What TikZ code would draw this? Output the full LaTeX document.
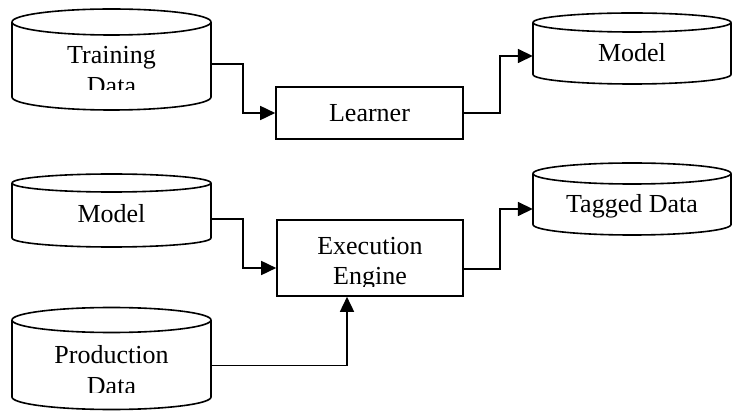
\documentclass[tikz,border=0pt]{standalone}
\usepackage{fontspec}
\setmainfont{Liberation Serif}
\usetikzlibrary{arrows.meta,fit}
\tikzset{
  shapeline/.style={draw=black, line width=1.6pt, line join=round},
  txt/.style={font=\fontsize{26}{31}\selectfont, inner sep=0pt, anchor=base},
  procbox/.style={draw=black, line width=1.6pt, fill=white, inner sep=0pt, font=\fontsize{26}{31}\selectfont},
  conn/.style={draw=black, line width=1.6pt, -{Triangle[length=15pt,width=14pt]}},
}
% name, x1, x2, top-centre y, bottom-centre y, y radius
\newcommand{\dbcyl}[6]{%
  \pgfmathsetmacro{\cylrx}{(#3-#2)/2}%
  \pgfmathsetmacro{\cylcx}{(#3+#2)/2}%
  \draw[shapeline, fill=white] (#2,#4) -- (#2,#5)
     arc[start angle=180, end angle=360, x radius=\cylrx pt, y radius=#6pt] -- (#3,#4);
  \draw[shapeline] (\cylcx,#4) ellipse[x radius=\cylrx pt, y radius=#6pt];
  \node[fit={(#2,#4) (#3,#5)}, inner sep=0pt] (#1) {};
}
\begin{document}
\begin{tikzpicture}[x=1pt, y=-1pt]
\useasboundingbox (0,0) rectangle (733,411);

% data stores
\dbcyl{td}{12}{211}{22}{97}{13}
\dbcyl{m1}{533}{731}{22.5}{74.5}{9.5}
\dbcyl{m2}{12}{211}{183}{238}{9}
\dbcyl{tg}{533}{731}{173.5}{224.5}{10.5}
\dbcyl{pd}{12}{211}{320}{397}{12.5}

% process boxes
\node[procbox, minimum width=187pt, minimum height=52pt] (learner) at (369.5,113) {Learner};
\node[procbox, minimum width=186pt, minimum height=76pt] (ee) at (370,258) {};

% labels
\begin{scope}
  \clip (12,36) rectangle (211,90);
  \node[txt] (td1) at (111.5,64) {Training};
  \node[txt] (td2) at (111.5,95) {Data};
\end{scope}
\node[txt] (m1t) at (632,62) {Model};
\node[txt] (m2t) at (111.5,223) {Model};
\begin{scope}
  \clip (533,185) rectangle (731,218);
  \node[txt] (tgt) at (632,213) {Tagged Data};
\end{scope}
\begin{scope}
  \clip (277,222) rectangle (463,286.5);
  \node[txt] (ee1) at (370,254.5) {Execution};
  \node[txt] (ee2) at (370,285) {Engine};
\end{scope}
\begin{scope}
  \clip (12,334) rectangle (211,392);
  \node[txt] (pd1) at (111.5,363) {Production};
  \node[txt] (pd2) at (111.5,394) {Data};
\end{scope}

% connectors
\draw[conn] ([yshift=-4.5pt]td.east) -- ++(32,0) |- (learner.west);
\draw[conn] (learner.east) -- ++(36,0) |- ([yshift=-7.5pt]m1.west);
\draw[conn] ([yshift=-8.5pt]m2.east) -- ++(32,0) |- ([yshift=-10pt]ee.west);
\draw[conn] ([yshift=-11pt]ee.east) -- ++(36,0) |- ([yshift=-10pt]tg.west);
\draw[conn] ([yshift=-7pt]pd.east) -| ([xshift=-23pt]ee.south);
\end{tikzpicture}
\end{document}
